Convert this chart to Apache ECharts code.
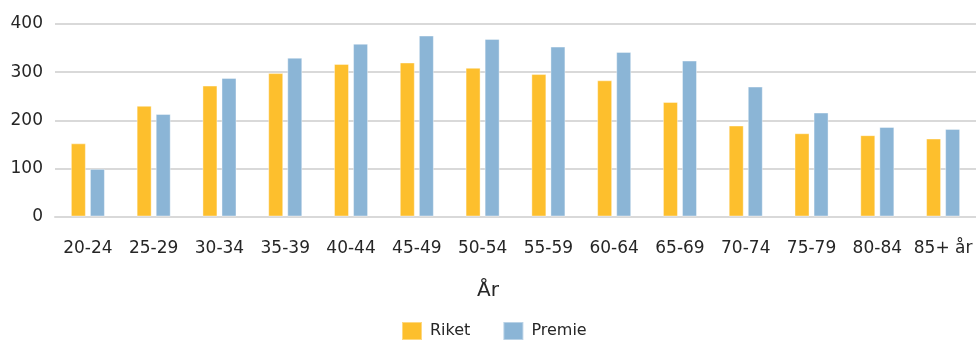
<!DOCTYPE html>
<html>
<head>
<meta charset="utf-8">
<script src="https://cdn.jsdelivr.net/npm/echarts@6/dist/echarts.min.js"></script>
<style>
html,body{margin:0;padding:0;background:#fff;}
#chart{width:976px;height:340px;}
</style>
</head>
<body>
<div id="chart"></div>
<script>
const categories = ['20-24','25-29','30-34','35-39','40-44','45-49','50-54','55-59','60-64','65-69','70-74','75-79','80-84','85+ år'];
const riket  = [152, 230, 272, 298, 317, 320, 309, 296, 283, 238, 189, 173, 169, 162];
const premie = [ 99, 213, 288, 330, 359, 376, 369, 353, 342, 324, 270, 216, 186, 182];
const yTicks = [0, 100, 200, 300, 400];

const FONT = 'DejaVu Sans';
const TXT = '#262626';
const chart = echarts.init(document.getElementById('chart'), null, {renderer: 'canvas'});
chart.setOption({
  animation: false,
  textStyle: {fontFamily: FONT, color: TXT},
  title: {
    text: 'År', left: 'center', top: 276,
    textStyle: {fontFamily: FONT, fontSize: 20, fontWeight: 'normal', color: TXT}
  },
  legend: {
    data: ['Riket', 'Premie'],
    left: 396, top: 316,
    itemWidth: 20, itemHeight: 18, itemGap: 32,
    icon: 'rect',
    textStyle: {fontFamily: FONT, fontSize: 16, color: TXT, padding: [0, 0, 0, 3]}
  },
  grid: {left: 55, right: -3, top: 24, bottom: 340 - 216.5, containLabel: false},
  xAxis: {
    type: 'category',
    data: categories,
    axisLine: {show: true, lineStyle: {color: '#d9d9d9', width: 2}},
    axisTick: {show: false},
    axisLabel: {fontFamily: FONT, fontSize: 17, color: TXT, margin: 24, interval: 0}
  },
  yAxis: {
    type: 'value',
    min: yTicks[0], max: yTicks[yTicks.length - 1], interval: 100,
    axisLine: {show: false},
    axisTick: {show: false},
    axisLabel: {fontFamily: FONT, fontSize: 17, color: TXT, margin: 12},
    splitLine: {lineStyle: {color: '#d9d9d9', width: 2}}
  },
  series: [
    {
      name: 'Riket', type: 'bar', data: riket,
      barWidth: 15, barGap: '27%',
      itemStyle: {color: '#FDBF2D', borderColor: 'rgba(255,255,255,0.4)', borderWidth: 1}
    },
    {
      name: 'Premie', type: 'bar', data: premie,
      barWidth: 15,
      itemStyle: {color: '#8BB5D6', borderColor: 'rgba(255,255,255,0.4)', borderWidth: 1}
    }
  ]
});
</script>
</body>
</html>
